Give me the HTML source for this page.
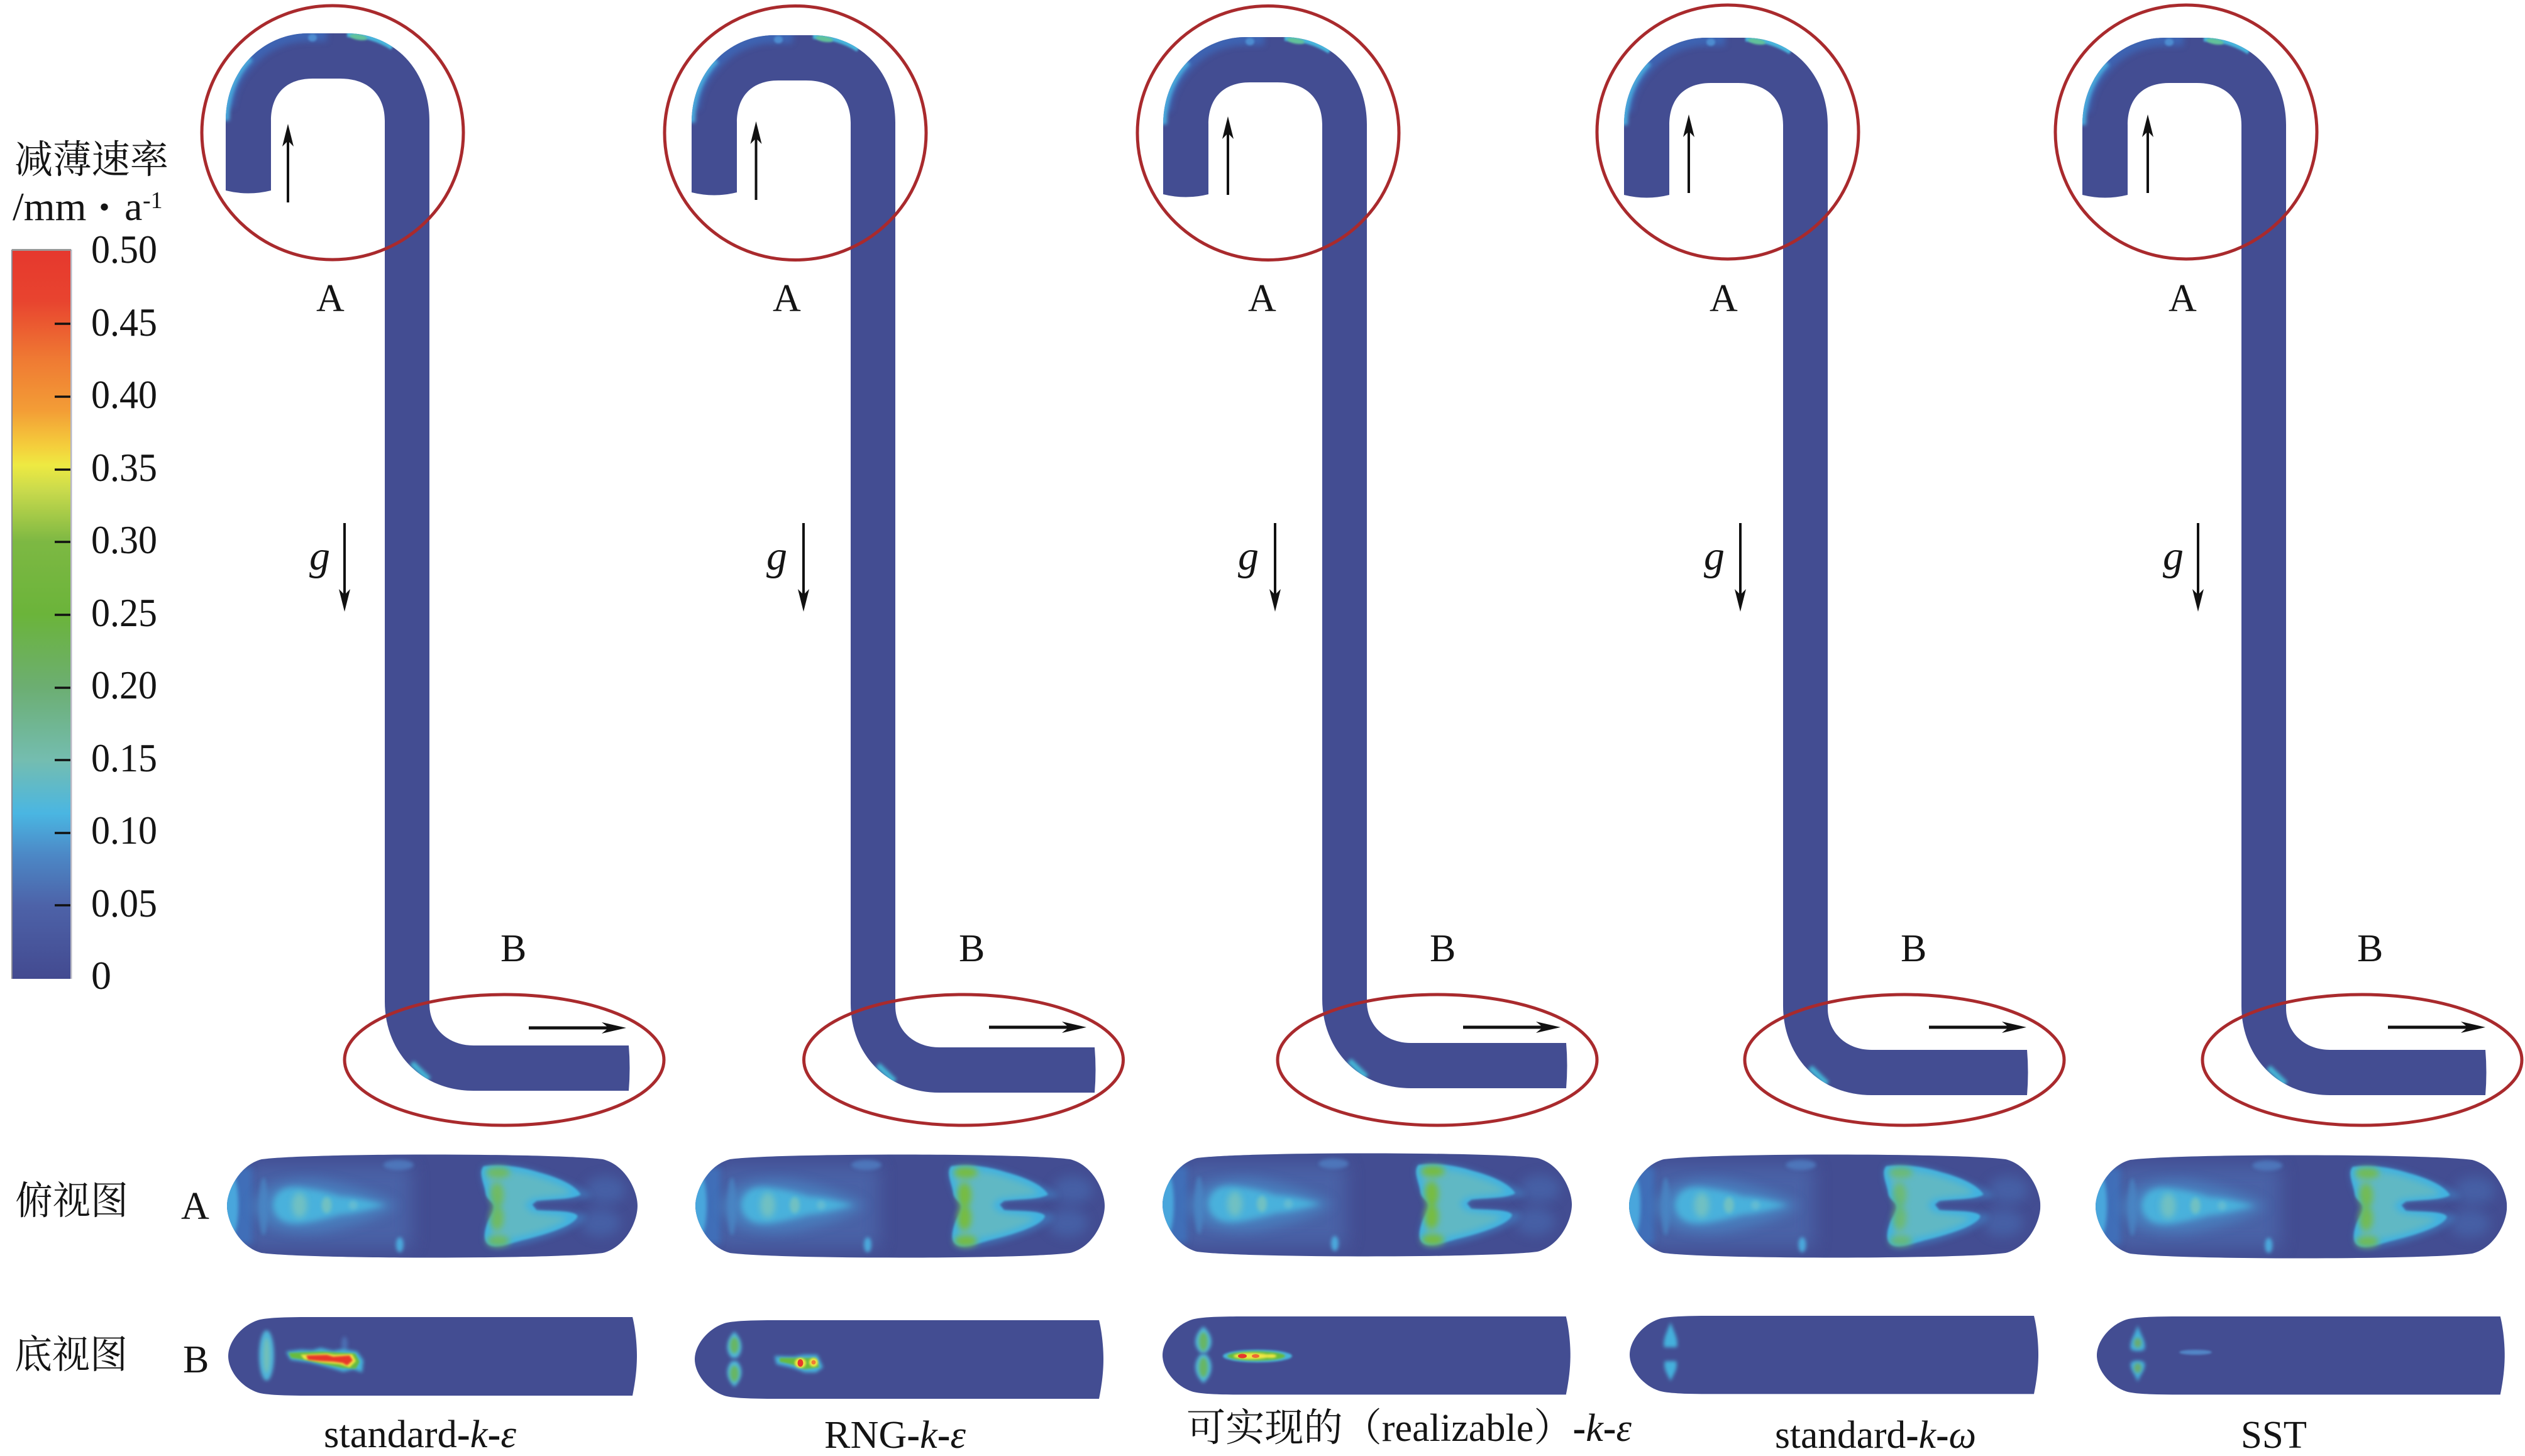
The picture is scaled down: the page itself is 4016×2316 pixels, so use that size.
<!DOCTYPE html>
<html lang="zh">
<head>
<meta charset="utf-8">
<title>减薄速率</title>
<style>
html,body{margin:0;padding:0;background:#fff}
svg{display:block}
text{fill:#141414;font-family:"Liberation Serif","Noto Serif CJK SC",serif}
.n{font-size:64px}
.l{font-size:62px}
.c{font-family:"Liberation Serif","Noto Serif CJK SC",serif;font-size:62px}
.g{font-size:66px;font-style:italic}
</style>
</head>
<body>
<svg xmlns="http://www.w3.org/2000/svg" width="4016" height="2316" viewBox="0 0 4016 2316">
<defs>
<linearGradient id="cb" x1="0" y1="0" x2="0" y2="1">
<stop offset="0" stop-color="#e6382e"/><stop offset=".07" stop-color="#e8442f"/>
<stop offset=".15" stop-color="#ef7a33"/><stop offset=".22" stop-color="#f39d36"/>
<stop offset=".27" stop-color="#f4cf3c"/><stop offset=".295" stop-color="#eeea42"/>
<stop offset=".33" stop-color="#c9da4c"/><stop offset=".40" stop-color="#7db843"/>
<stop offset=".50" stop-color="#6bb43a"/><stop offset=".60" stop-color="#6cae72"/>
<stop offset=".70" stop-color="#74bdb0"/><stop offset=".773" stop-color="#4ab6e2"/>
<stop offset=".83" stop-color="#4c88c6"/><stop offset=".90" stop-color="#4d62a8"/>
<stop offset="1" stop-color="#434a90"/>
</linearGradient>
<filter id="b2" x="-100%" y="-100%" width="300%" height="300%"><feGaussianBlur stdDeviation="1.6"/></filter>
<filter id="b3" x="-100%" y="-100%" width="300%" height="300%"><feGaussianBlur stdDeviation="3"/></filter>
<filter id="b5" x="-100%" y="-100%" width="300%" height="300%"><feGaussianBlur stdDeviation="5"/></filter>
<filter id="b9" x="-100%" y="-100%" width="300%" height="300%"><feGaussianBlur stdDeviation="9"/></filter>
<filter id="b14" x="-100%" y="-100%" width="300%" height="300%"><feGaussianBlur stdDeviation="14"/></filter>

<clipPath id="tc"><path d="M359,305 L359,192 C359,110 420,53 490,53 L552,53 C625,53 683,110 683,192 L683,320 L612,320 L612,192 C612,150 585,125 541,125 L497,125 C455,125 431,150 431,192 L431,303 Q395,312 359,303 Z"/></clipPath>
<clipPath id="bc"><path d="M612,1400 L683,1400 L683,1597 C683,1635 712,1663 753,1663 L1000,1663 Q1003,1699 1000,1735 L753,1735 C668,1735 612,1672 612,1593 Z"/></clipPath>
<clipPath id="ac"><path d="M55,7 C130,-3 521,-3 596,7 C632,16 651,57 651,81 C651,106 632,147 596,156 C521,166 130,166 55,156 C20,147 0,106 0,81 C0,57 20,16 55,7 Z"/></clipPath>

<g id="TOP">
<path fill="#434d92" d="M359,305 L359,192 C359,110 420,53 490,53 L552,53 C625,53 683,110 683,192 L683,320 L612,320 L612,192 C612,150 585,125 541,125 L497,125 C455,125 431,150 431,192 L431,303 Q395,312 359,303 Z"/>
<g clip-path="url(#tc)">
<path d="M359,170 C362,135 378,112 398,92 C422,67 455,53 490,53 L520,53" stroke="#3d68b8" stroke-width="26" fill="none" filter="url(#b5)" opacity=".85"/>
<path d="M359,192 C359,151 374,116 398,92" stroke="#48a8dc" stroke-width="12" fill="none" filter="url(#b3)"/>
<ellipse cx="497" cy="60" rx="7" ry="6" fill="#4e8cd0" filter="url(#b2)"/>
<path d="M552,53 C575,53 600,58 625,74" stroke="#46b4dc" stroke-width="12" fill="none" filter="url(#b2)"/>
<ellipse cx="570" cy="59" rx="14" ry="4.5" fill="#62c29a" filter="url(#b2)" transform="rotate(10 570 59)"/>
</g>
</g>

<g id="BOT">
<path fill="#434d92" d="M612,1400 L683,1400 L683,1597 C683,1635 712,1663 753,1663 L1000,1663 Q1003,1699 1000,1735 L753,1735 C668,1735 612,1672 612,1593 Z"/>
<g clip-path="url(#bc)">
<path d="M655,1691 L682,1717" stroke="#45b8d8" stroke-width="9" fill="none" filter="url(#b3)"/>
</g>
</g>

<polygon id="ua" fill="#111" points="458,197 467,233 460,226 460,322 456,322 456,226 449,233"/>
<polygon id="ra" fill="#111" points="996,1635 957,1626 965,1632.5 841,1632.5 841,1637.5 965,1637.5 957,1644"/>
<polygon id="da" fill="#111" points="548,973 539,937 546,944 546,832 550,832 550,944 557,937"/>

<g id="AB" clip-path="url(#ac)">
<rect x="-5" y="-5" width="661" height="173" fill="#434d92"/>
<rect x="30" y="16" width="262" height="132" fill="#4c68ac" opacity=".8" filter="url(#b14)"/>
<rect x="-5" y="20" width="45" height="122" fill="#3f72bc" opacity=".9" filter="url(#b5)"/>
<ellipse cx="6" cy="80" rx="12" ry="52" fill="#48a6dc" filter="url(#b3)"/>
<ellipse cx="58" cy="82" rx="7" ry="46" fill="#4a94d0" opacity=".55" filter="url(#b3)"/>
<path d="M40,82 C50,40 120,34 160,42 C190,48 240,60 270,80 C240,104 190,114 160,120 C120,128 50,124 40,82Z" fill="#4a88c6" opacity=".7" filter="url(#b9)"/>
<path d="M72,80 C76,52 100,48 125,53 C145,56 165,60 180,66 C200,66 222,72 252,80 C222,88 200,94 180,95 C165,100 145,104 125,108 C100,112 76,108 72,80Z" fill="#49b1dc" filter="url(#b5)"/>
<ellipse cx="115" cy="80" rx="12" ry="20" fill="#74c2c0" opacity=".9" filter="url(#b5)"/>
<ellipse cx="158" cy="80" rx="8" ry="13" fill="#74c2c0" opacity=".9" filter="url(#b3)"/>
<ellipse cx="200" cy="80" rx="7" ry="7" fill="#66bcd0" opacity=".9" filter="url(#b3)"/>
<ellipse cx="272" cy="16" rx="24" ry="8" fill="#4f7cc0" opacity=".85" filter="url(#b3)"/>
<ellipse cx="274" cy="143" rx="6" ry="12" fill="#4ba8dc" filter="url(#b3)"/>
<ellipse cx="600" cy="56" rx="32" ry="22" fill="#4a72b8" opacity=".5" filter="url(#b9)"/>
<ellipse cx="592" cy="108" rx="32" ry="22" fill="#4a72b8" opacity=".5" filter="url(#b9)"/>
<path fill="#3f90d0" opacity=".5" filter="url(#b5)" d="M405,18 C440,12 480,20 510,32 C545,45 570,55 578,66 C550,74 515,71 492,73 L484,79 L492,88 C515,88 550,88 570,97 C565,112 530,125 490,137 C465,143 440,150 420,148 C400,140 410,110 422,83 C410,60 398,35 405,18Z"/>
<path fill="#43b2e0" filter="url(#b2)" d="M407,18 C440,14 470,20 495,28 C525,36 552,48 561,63 C550,71 515,70 491,73 L484,79 L491,88 C515,90 550,88 556,97 C555,108 525,122 467,136 C450,141 432,147 421,145 C405,142 407,125 413,108 C417,98 423,92 423,83 C423,74 411,72 410,60 C408,45 398,28 407,18Z"/>
<path fill="#60b8c4" filter="url(#b5)" d="M416,24 C450,24 480,30 500,38 C525,46 542,54 545,61 C530,66 505,66 482,70 L472,80 L482,91 C505,96 530,96 540,101 C530,110 500,122 462,130 C445,134 430,138 424,136 C414,132 420,112 428,95 C432,88 432,76 428,70 C418,58 408,34 416,24Z"/>
</g>
<g id="AG" fill="#77bc40" filter="url(#b5)">
<ellipse cx="430" cy="28" rx="19" ry="9"/>
<ellipse cx="428" cy="64" rx="11" ry="20"/>
<ellipse cx="428" cy="100" rx="11" ry="20"/>
<ellipse cx="430" cy="137" rx="18" ry="9"/>
</g>

<path id="BS" fill="#434d92" d="M643,0 L130,0 C90,0 60,1 47,5 C20,14 0,40 0,62 C0,85 20,111 47,120 C60,124 90,125 130,125 L643,125 C648,100 650,80 650,62 C650,45 648,20 643,0 Z"/>
</defs>

<rect width="4016" height="2316" fill="#fff"/>

<!-- colour bar -->
<rect x="19" y="398" width="93" height="1159" fill="url(#cb)"/>
<rect x="18" y="397" width="2" height="1160" fill="#8a8a96"/>
<rect x="112" y="397" width="2.5" height="1160" fill="#b8b8c4"/>
<rect x="19" y="396" width="94" height="3" fill="#999"/>
<g stroke="#111" stroke-width="3.5">
<path d="M87,515H112M87,631H112M87,747H112M87,862H112M87,978H112M87,1094H112M87,1209H112M87,1325H112M87,1440H112"/>
</g>
<text class="c" x="23" y="275" textLength="245" lengthAdjust="spacingAndGlyphs">减薄速率</text>
<text class="n" x="20" y="350">/mm</text>
<text class="c" x="166" y="353" text-anchor="middle">・</text>
<text class="n" x="198" y="350">a</text>
<text x="227" y="331" font-size="38">-1</text>
<g class="n">
<text class="n" x="145" y="418" textLength="105" lengthAdjust="spacingAndGlyphs">0.50</text>
<text class="n" x="145" y="534" textLength="105" lengthAdjust="spacingAndGlyphs">0.45</text>
<text class="n" x="145" y="649" textLength="105" lengthAdjust="spacingAndGlyphs">0.40</text>
<text class="n" x="145" y="765" textLength="105" lengthAdjust="spacingAndGlyphs">0.35</text>
<text class="n" x="145" y="880" textLength="105" lengthAdjust="spacingAndGlyphs">0.30</text>
<text class="n" x="145" y="996" textLength="105" lengthAdjust="spacingAndGlyphs">0.25</text>
<text class="n" x="145" y="1111" textLength="105" lengthAdjust="spacingAndGlyphs">0.20</text>
<text class="n" x="145" y="1227" textLength="105" lengthAdjust="spacingAndGlyphs">0.15</text>
<text class="n" x="145" y="1342" textLength="105" lengthAdjust="spacingAndGlyphs">0.10</text>
<text class="n" x="145" y="1458" textLength="105" lengthAdjust="spacingAndGlyphs">0.05</text>
<text class="n" x="145" y="1573">0</text>
</g>

<!-- pipes -->
<g fill="#434d92">
<rect x="612" y="240" width="71" height="1300"/>
<rect x="1353" y="240" width="71" height="1300"/>
<rect x="2103" y="240" width="71" height="1300"/>
<rect x="2836" y="240" width="71" height="1300"/>
<rect x="3565" y="240" width="71" height="1300"/>
</g>
<use href="#TOP"/>
<use href="#TOP" transform="translate(741,3)"/>
<use href="#TOP" transform="translate(1491,6)"/>
<use href="#TOP" transform="translate(2224,7)"/>
<use href="#TOP" transform="translate(2953,7)"/>
<use href="#BOT"/>
<use href="#BOT" transform="translate(741,3)"/>
<use href="#BOT" transform="translate(1491,-4)"/>
<use href="#BOT" transform="translate(2224,7)"/>
<use href="#BOT" transform="translate(2953,7)"/>

<!-- red ellipses -->
<g fill="none" stroke="#a92a2d" stroke-width="5">
<ellipse cx="529" cy="211" rx="208" ry="202"/>
<ellipse cx="1265" cy="211.5" rx="208" ry="202"/>
<ellipse cx="2017" cy="211.5" rx="208" ry="202"/>
<ellipse cx="2748" cy="210" rx="208" ry="202"/>
<ellipse cx="3477" cy="210" rx="208" ry="202"/>
<ellipse cx="802" cy="1686" rx="254" ry="104"/>
<ellipse cx="1532.5" cy="1686" rx="254" ry="104"/>
<ellipse cx="2286" cy="1686" rx="254" ry="104"/>
<ellipse cx="3029" cy="1686" rx="254" ry="104"/>
<ellipse cx="3757" cy="1686" rx="254" ry="104"/>
</g>

<!-- arrows -->
<use href="#ua"/>
<use href="#ua" transform="translate(744.5,-4)"/>
<use href="#ua" transform="translate(1495,-12)"/>
<use href="#ua" transform="translate(2228,-15)"/>
<use href="#ua" transform="translate(2958,-15)"/>
<use href="#ra"/>
<use href="#ra" transform="translate(732,-1)"/>
<use href="#ra" transform="translate(1486,-1)"/>
<use href="#ra" transform="translate(2227,-1)"/>
<use href="#ra" transform="translate(2957,-1)"/>
<use href="#da"/>
<use href="#da" transform="translate(730,0)"/>
<use href="#da" transform="translate(1480,0)"/>
<use href="#da" transform="translate(2220,0)"/>
<use href="#da" transform="translate(2948,0)"/>

<!-- A / B / g labels -->
<g>
<text class="l" x="503" y="495">A</text>
<text class="l" x="1229" y="495">A</text>
<text class="l" x="1985" y="495">A</text>
<text class="l" x="2719" y="495">A</text>
<text class="l" x="3449" y="495">A</text>
<text class="l" x="796" y="1529">B</text>
<text class="l" x="1525" y="1529">B</text>
<text class="l" x="2274" y="1529">B</text>
<text class="l" x="3023" y="1529">B</text>
<text class="l" x="3749" y="1529">B</text>
<text class="g" x="492" y="906">g</text>
<text class="g" x="1219" y="906">g</text>
<text class="g" x="1969" y="906">g</text>
<text class="g" x="2710" y="906">g</text>
<text class="g" x="3440" y="906">g</text>
</g>

<!-- row labels -->
<text class="c" x="24" y="1931" textLength="180" lengthAdjust="spacingAndGlyphs">俯视图</text>
<text class="l" x="288" y="1939">A</text>
<text class="c" x="23" y="2176" textLength="180" lengthAdjust="spacingAndGlyphs">底视图</text>
<text class="l" x="291" y="2183">B</text>

<!-- top view maps -->
<g transform="translate(361,1837) scale(1.003,1)"><use href="#AB"/><use href="#AG" opacity=".75"/></g>
<g transform="translate(1106,1837)"><use href="#AB"/><use href="#AG"/></g>
<g transform="translate(1849,1835)"><use href="#AB"/><use href="#AG"/></g>
<g transform="translate(2591,1837) scale(1.005,1)"><use href="#AB"/><use href="#AG" opacity=".6"/></g>
<g transform="translate(3333,1838) scale(1.005,1)"><use href="#AB"/><use href="#AG" opacity=".85"/></g>

<!-- bottom view maps -->
<use href="#BS" transform="translate(363,2095)"/>
<use href="#BS" transform="translate(1105,2100)"/>
<use href="#BS" transform="translate(1849,2094) scale(.998,.995)"/>
<use href="#BS" transform="translate(2592,2093) scale(1,.995)"/>
<use href="#BS" transform="translate(3335,2094) scale(.998,.995)"/>

<!-- column 1 hot spots -->
<ellipse cx="424" cy="2156" rx="12" ry="40" fill="#4fb3d8" filter="url(#b3)"/>
<ellipse cx="424" cy="2156" rx="5" ry="28" fill="#72c0b8" filter="url(#b3)"/>
<ellipse cx="548" cy="2138" rx="5" ry="12" fill="#4f7cc0" opacity=".7" filter="url(#b3)"/>
<path fill="#45b5dc" filter="url(#b3)" d="M455,2150 L478,2147 L497,2148 L510,2144 L530,2149 L545,2146 L568,2150 L578,2164 L576,2183 L562,2178 L546,2182 L530,2177 L512,2172 L492,2167 L462,2163Z"/>
<path fill="#69bb3c" filter="url(#b2)" d="M459,2152 L482,2151 L512,2150 L565,2153 L572,2166 L566,2177 L545,2176 L515,2170 L484,2163 L463,2160Z"/>
<path fill="#efe642" filter="url(#b2)" d="M478,2155 L520,2153 L532,2155 L560,2154 L566,2165 L556,2175 L540,2170 L510,2167 L484,2162Z"/>
<path fill="#e8372c" filter="url(#b2)" d="M487,2156 L520,2155 L530,2158 L556,2156 L561,2164 L552,2172 L545,2168 L530,2166 L510,2165 L490,2163Z"/>

<!-- column 2 hot spots -->
<path fill="#4fb8dc" filter="url(#b3)" d="M1168,2118 C1180,2130 1184,2148 1172,2160 L1164,2160 C1152,2148 1156,2130 1168,2118Z"/>
<path fill="#4fb8dc" filter="url(#b3)" d="M1168,2206 C1180,2194 1184,2178 1172,2165 L1164,2165 C1152,2178 1156,2194 1168,2206Z"/>
<ellipse cx="1168" cy="2140" rx="7" ry="13" fill="#68b664" filter="url(#b3)"/>
<ellipse cx="1168" cy="2185" rx="7" ry="13" fill="#68b664" filter="url(#b3)"/>
<path fill="#46b4dc" filter="url(#b3)" d="M1232,2157 L1262,2158 L1278,2155 L1300,2155 L1309,2175 L1298,2183 L1280,2183 L1262,2176 L1235,2170Z"/>
<path fill="#69bb3c" filter="url(#b2)" d="M1240,2160 L1298,2160 L1303,2175 L1280,2178 L1262,2171 L1240,2166Z"/>
<ellipse cx="1273" cy="2168" rx="9" ry="8" fill="#efe642" filter="url(#b2)"/>
<ellipse cx="1294" cy="2167" rx="7" ry="7" fill="#efe642" filter="url(#b2)"/>
<ellipse cx="1273" cy="2168" rx="4.5" ry="6" fill="#e8372c"/>
<ellipse cx="1294" cy="2167" rx="3.5" ry="3.5" fill="#f07a34"/>

<!-- column 3 hot spots -->
<path fill="#4fb8dc" filter="url(#b3)" d="M1914,2110 C1928,2122 1932,2140 1918,2152 L1910,2152 C1896,2140 1900,2122 1914,2110Z"/>
<path fill="#4fb8dc" filter="url(#b3)" d="M1914,2200 C1928,2188 1932,2168 1918,2154 L1910,2154 C1896,2168 1900,2188 1914,2200Z"/>
<ellipse cx="1914" cy="2134" rx="7" ry="15" fill="#68b664" filter="url(#b3)"/>
<ellipse cx="1914" cy="2175" rx="7" ry="16" fill="#68b664" filter="url(#b3)"/>
<ellipse cx="2000" cy="2157" rx="55" ry="10" fill="#46b4dc" filter="url(#b2)"/>
<ellipse cx="1998" cy="2157" rx="46" ry="7.5" fill="#69bb3c" filter="url(#b2)"/>
<ellipse cx="1990" cy="2157" rx="28" ry="5" fill="#efe642" filter="url(#b2)"/>
<ellipse cx="2022" cy="2157" rx="8" ry="3" fill="#efe642" filter="url(#b2)"/>
<ellipse cx="1976" cy="2157" rx="7" ry="3.5" fill="#e8372c"/>
<ellipse cx="1997" cy="2157" rx="6" ry="3" fill="#ee6a32"/>

<!-- column 4 hot spots -->
<path fill="#45b0dc" filter="url(#b3)" d="M2657,2103 C2662,2118 2670,2130 2667,2143 L2647,2143 C2644,2130 2652,2118 2657,2103Z"/>
<path fill="#45b0dc" filter="url(#b3)" d="M2657,2197 C2662,2185 2669,2178 2666,2165 L2648,2165 C2645,2178 2652,2185 2657,2197Z"/>

<!-- column 5 hot spots -->
<path fill="#45b0dc" filter="url(#b3)" d="M3400,2108 C3404,2122 3414,2134 3411,2146 C3408,2150 3392,2150 3389,2146 C3386,2134 3396,2122 3400,2108Z"/>
<path fill="#45b0dc" filter="url(#b3)" d="M3400,2198 C3404,2186 3413,2178 3411,2168 C3408,2163 3392,2163 3389,2168 C3387,2178 3396,2186 3400,2198Z"/>
<ellipse cx="3400" cy="2136" rx="6" ry="8" fill="#6aac70" filter="url(#b3)"/>
<ellipse cx="3400" cy="2176" rx="6" ry="8" fill="#6aac70" filter="url(#b3)"/>
<ellipse cx="3492" cy="2151" rx="26" ry="4" fill="#5590d0" opacity=".85" filter="url(#b2)"/>

<!-- captions -->
<text class="l" x="515" y="2302" textLength="306" lengthAdjust="spacingAndGlyphs">standard<tspan font-weight="bold">-</tspan><tspan font-style="italic">k</tspan><tspan font-weight="bold">-</tspan><tspan font-style="italic">ε</tspan></text>
<text class="l" x="1311" y="2303" textLength="225" lengthAdjust="spacingAndGlyphs">RNG<tspan font-weight="bold">-</tspan><tspan font-style="italic">k</tspan><tspan font-weight="bold">-</tspan><tspan font-style="italic">ε</tspan></text>
<text class="c" x="1887" y="2292" textLength="708" lengthAdjust="spacingAndGlyphs">可实现的（realizable）<tspan font-weight="bold">-</tspan><tspan font-style="italic">k</tspan><tspan font-weight="bold">-</tspan><tspan font-style="italic">ε</tspan></text>
<text class="l" x="2823" y="2303" textLength="320" lengthAdjust="spacingAndGlyphs">standard<tspan font-weight="bold">-</tspan><tspan font-style="italic">k</tspan><tspan font-weight="bold">-</tspan><tspan font-style="italic">ω</tspan></text>
<text class="l" x="3564" y="2303" textLength="105" lengthAdjust="spacingAndGlyphs">SST</text>
</svg>
</body>
</html>
